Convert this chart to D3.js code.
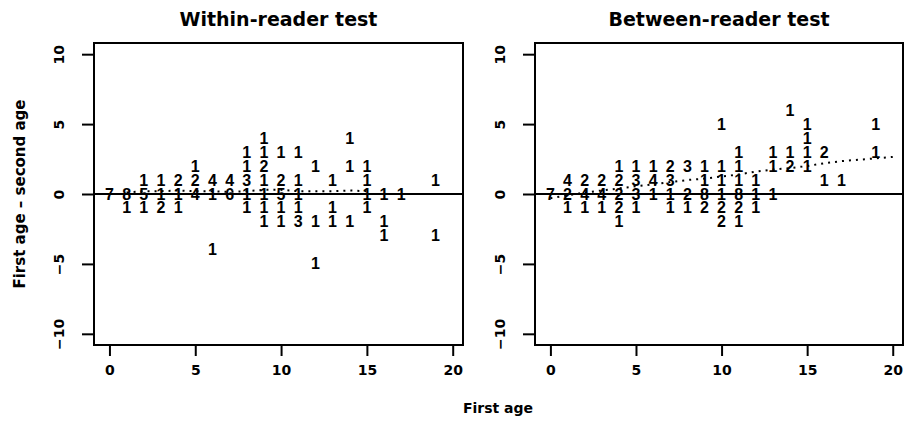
<!DOCTYPE html>
<html><head><meta charset="utf-8">
<script src="https://cdn.jsdelivr.net/npm/d3@7"></script>
<style>body{margin:0;background:#fff} svg{display:block}</style>
</head><body><svg id="c" width="908" height="424"></svg>
<script>
// ---- data ----
const panelTitles = ["Within-reader test", "Between-reader test"];
const xLabel = "First age";
const yLabel = "First age \u2013 second age";
const xTicks = [0, 5, 10, 15, 20];
const yTicks = [-10, -5, 0, 5, 10];

// Within-reader: first age, difference, number of fish
const withinAge   = [0,1,1,2,2,2,3,3,3,4,4,4,5,5,5,6,6,6,7,7,8,8,8,8,8,9,9,9,9,9,9,9,10,10,10,10,10,11,11,11,11,11,12,12,12,13,13,13,14,14,14,15,15,15,15,16,16,16,17,19,19];
const withinDiff  = [0,0,-1,1,0,-1,1,0,-1,1,0,-1,2,1,0,1,0,-4,1,0,3,2,1,0,-1,4,3,2,1,0,-1,-2,3,1,0,-1,-2,3,1,0,-1,-2,2,-2,-5,1,-1,-2,4,2,-2,2,1,0,-1,0,-2,-3,0,1,-3];
const withinCount = [7,8,1,1,5,1,1,1,2,2,1,1,1,2,4,4,1,1,4,6,1,1,3,1,1,1,1,2,1,1,1,1,1,2,5,1,1,1,1,1,1,3,1,1,1,1,1,1,1,1,1,1,1,1,1,1,1,1,1,1,1];
// Within-reader mean difference (dotted)
const withinMeanAge  = [1,2,3,4,5,6,7,8,9,10,11,12,13,14,15];
const withinMeanDiff = [0.1,0.2,0.2,0.25,0.2,0.2,0.15,0.2,0.3,0.3,0.2,0.2,0.2,0.25,0.2];

// Between-reader
const betweenAge   = [0,1,1,1,2,2,2,3,3,3,4,4,4,4,4,5,5,5,5,6,6,6,7,7,7,7,8,8,8,9,9,9,9,10,10,10,10,10,10,11,11,11,11,11,11,12,12,12,13,13,13,14,14,14,15,15,15,15,16,16,17,19,19];
const betweenDiff  = [0,1,0,-1,1,0,-1,1,0,-1,2,1,0,-1,-2,2,1,0,-1,2,1,0,2,1,0,-1,2,0,-1,2,1,0,-1,5,2,1,0,-1,-2,3,2,1,0,-1,-2,1,0,-1,3,2,0,6,3,2,5,4,3,2,3,1,1,5,3];
const betweenCount = [7,4,2,1,2,4,1,2,4,1,1,2,2,2,1,1,3,3,1,1,4,1,2,3,1,1,3,2,1,1,1,8,2,1,1,1,1,2,2,1,1,1,8,2,1,1,1,1,1,1,1,1,1,2,1,1,1,1,2,1,1,1,1];
// Between-reader mean difference (dotted)
const betweenMeanAge  = [0,1,2,3,4,5,6,7,8,9,10,11,12,13,14,15,16,17,18,19,20];
const betweenMeanDiff = [-0.3,-0.1,0.1,0.25,0.4,0.55,0.7,0.85,1.0,1.1,1.25,1.4,1.6,1.75,1.85,2.0,2.2,2.35,2.45,2.55,2.65];

// ---- drawing ----
const svg = d3.select("#c");
svg.append("rect").attr("width", 908).attr("height", 424).attr("fill", "#fff");

const plotTop = 43, plotBottom = 345;
const labelFont = "'DejaVu Sans', sans-serif";
const panels = [
  {left: 94, right: 463, title: panelTitles[0], age: withinAge, diff: withinDiff, count: withinCount, mAge: withinMeanAge, mDiff: withinMeanDiff},
  {left: 535, right: 903, title: panelTitles[1], age: betweenAge, diff: betweenDiff, count: betweenCount, mAge: betweenMeanAge, mDiff: betweenMeanDiff}
];

panels.forEach(p => {
  const x = d3.scaleLinear().domain([-0.9, 20.6]).range([p.left, p.right]);
  const y = d3.scaleLinear().domain([-10.8, 10.8]).range([plotBottom, plotTop]);
  const g = svg.append("g");

  // number markers
  g.selectAll("text.pt").data(p.age.map((a, i) => ({a, d: p.diff[i], n: p.count[i]})))
    .join("text").attr("class", "pt")
    .attr("x", d => x(d.a)).attr("y", d => y(d.d))
    .attr("text-anchor", "middle").attr("dominant-baseline", "central")
    .attr("font-family", "'Liberation Sans', Arial, sans-serif")
    .attr("font-weight", "bold").attr("font-size", 16)
    .text(d => d.n);

  // zero line
  g.append("line").attr("x1", p.left).attr("x2", p.right)
    .attr("y1", y(0)).attr("y2", y(0)).attr("stroke", "#000").attr("stroke-width", 2);

  // mean difference dotted line
  const line = d3.line().x((d, i) => x(p.mAge[i])).y(d => y(d));
  g.append("path").attr("d", line(p.mDiff)).attr("fill", "none")
    .attr("stroke", "#000").attr("stroke-width", 2).attr("stroke-dasharray", "2,5");

  // box
  g.append("rect").attr("x", p.left).attr("y", plotTop)
    .attr("width", p.right - p.left).attr("height", plotBottom - plotTop)
    .attr("fill", "none").attr("stroke", "#000").attr("stroke-width", 2);

  // x axis
  const xa = g.append("g").attr("transform", `translate(0,${plotBottom})`)
    .call(d3.axisBottom(x).tickValues(xTicks).tickSize(11).tickPadding(9).tickSizeOuter(0));
  xa.select(".domain").remove();
  xa.selectAll(".tick line").attr("stroke-width", 2);
  xa.selectAll("text").attr("font-family", labelFont).attr("font-weight", "bold")
    .attr("font-size", 14).attr("fill", "#000");

  // y axis
  const ya = g.append("g").attr("transform", `translate(${p.left},0)`)
    .call(d3.axisLeft(y).tickValues(yTicks).tickSize(12).tickSizeOuter(0));
  ya.select(".domain").remove();
  ya.selectAll(".tick line").attr("stroke-width", 2);
  ya.selectAll("text").attr("x", 0).attr("dy", null)
    .attr("transform", "translate(-35,0) rotate(-90)")
    .attr("text-anchor", "middle").attr("dominant-baseline", "central")
    .attr("font-family", labelFont).attr("font-weight", "bold")
    .attr("font-size", 14).attr("fill", "#000");

  // title
  svg.append("text").attr("x", (p.left + p.right) / 2).attr("y", 19)
    .attr("text-anchor", "middle").attr("dominant-baseline", "central")
    .attr("font-family", labelFont).attr("font-weight", "bold").attr("font-size", 19)
    .text(p.title);
});

// axis titles
svg.append("text").attr("x", 498).attr("y", 408)
  .attr("text-anchor", "middle").attr("dominant-baseline", "central")
  .attr("font-family", labelFont).attr("font-weight", "bold").attr("font-size", 14)
  .text(xLabel);
svg.append("text").attr("transform", "translate(20,194) rotate(-90)")
  .attr("text-anchor", "middle").attr("dominant-baseline", "central")
  .attr("font-family", labelFont).attr("font-weight", "bold").attr("font-size", 15)
  .text(yLabel);
</script>
</body></html>
